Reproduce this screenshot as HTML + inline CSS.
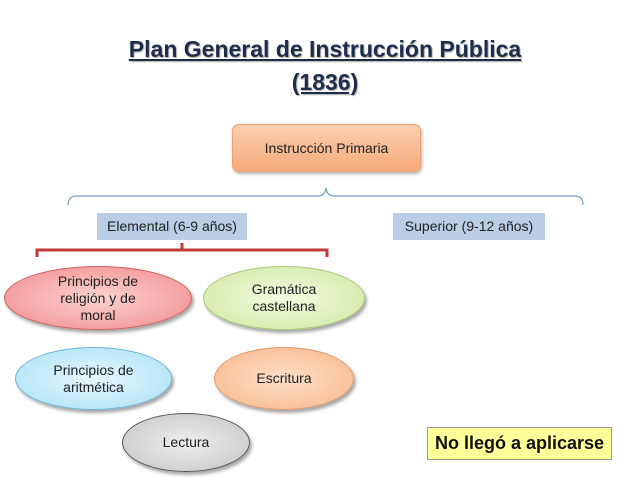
<!DOCTYPE html>
<html><head><meta charset="utf-8"><style>
body{margin:0;width:638px;height:478px;background:#fff;position:relative;overflow:hidden;font-family:"Liberation Sans",sans-serif;}
.a{position:absolute;box-sizing:border-box;display:flex;align-items:center;justify-content:center;text-align:center;color:#222;font-size:14px;line-height:17px}
.e{border-radius:50%;box-shadow:2px 3px 3px rgba(0,0,0,.35)}
</style></head><body>
<div class="a" style="left:60px;top:34px;width:530px;height:30px;font-size:23px;font-weight:bold;color:#1f2d4d;text-decoration:underline;text-shadow:1px 1px 1px #aaa">Plan General de Instrucción Pública</div>
<div class="a" style="left:60px;top:67px;width:530px;height:30px;font-size:23px;font-weight:bold;color:#1f2d4d;text-decoration:underline;text-shadow:1px 1px 1px #aaa">(1836)</div>
<div class="a" style="left:232px;top:124px;width:189px;height:48px;border-radius:7px;background:linear-gradient(#fbd0b0,#f5a97a);border:1px solid #f0a070;box-shadow:1px 2px 3px rgba(0,0,0,.3)">Instrucción Primaria</div>
<svg style="position:absolute;left:0;top:0" width="638" height="478">
<path d="M68 205 Q68 196 77 196 L318 196 Q325 196 326 188 Q327 196 334 196 L575 196 Q583 196 583 205" fill="none" stroke="#7a9cc0" stroke-width="1.2"/>
<path d="M37 257 L37 250 L327 250 L327 257 M182 250 L182 243" fill="none" stroke="#c0393b" stroke-width="3"/>
</svg>
<div class="a" style="left:97px;top:213px;width:150px;height:27px;background:#b9cde5">Elemental (6-9 años)</div>
<div class="a" style="left:393px;top:213px;width:152px;height:27px;background:#b9cde5">Superior (9-12 años)</div>
<div class="a e" style="left:4px;top:266px;width:188px;height:64px;background:radial-gradient(#fbd3d3,#f28a8a);border:1px solid #d06060">Principios de<br>religión y de<br>moral</div>
<div class="a e" style="left:203px;top:266px;width:162px;height:64px;background:radial-gradient(#f3fbe0,#cfe8a0);border:1px solid #a8c878">Gramática<br>castellana</div>
<div class="a e" style="left:15px;top:347px;width:157px;height:63px;background:radial-gradient(#e6f8ff,#a8e0f5);border:1px solid #6ab8d8">Principios de<br>aritmética</div>
<div class="a e" style="left:214px;top:347px;width:140px;height:63px;background:radial-gradient(#fde0c8,#f7b68a);border:1px solid #e09a68">Escritura</div>
<div class="a e" style="left:122px;top:413px;width:128px;height:59px;background:radial-gradient(#eeeeee,#c4c4c4);border:1px solid #555">Lectura</div>
<div class="a" style="left:427px;top:427px;width:185px;height:33px;background:#ffff99;border:1px solid #999;font-size:18px;font-weight:bold;color:#111">No llegó a aplicarse</div>
</body></html>
